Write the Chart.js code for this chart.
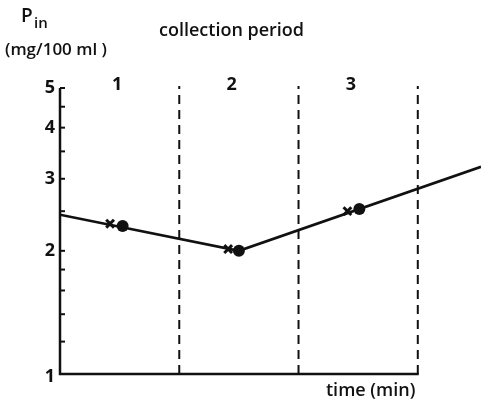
<!DOCTYPE html>
<html>
<head>
<meta charset="utf-8">
<script src="https://cdn.jsdelivr.net/npm/chart.js@4/dist/chart.umd.min.js"></script>
<style>
  html, body { margin: 0; padding: 0; background: #fff; }
  #wrap { position: relative; width: 481px; height: 403px; }
  canvas { display: block; }
</style>
</head>
<body>
<div id="wrap"><canvas id="c" width="481" height="403"></canvas></div>
<script>
// Plasma concentration (mg/100 ml) against time, in units of collection periods
const lineTime  = [0, 1.50, 3.53];
const lineConc  = [2.45, 2.00, 3.21];
const dotTime   = [0.525, 1.50, 2.51];
const dotConc   = [2.30, 2.00, 2.53];
const crossTime = [0.42, 1.41, 2.41];
const crossConc = [2.33, 2.02, 2.50];
const periodBounds = [1, 2, 3];
const periodLabels = ['1', '2', '3'];
const periodLabelPos = [0.48, 1.44, 2.44];
const yLabelTicks = [1, 2, 3, 4, 5];
const yMinorTicks = [1.2, 1.4, 1.6, 1.8, 2, 2.5, 3, 3.5, 4, 4.5, 5];

const FONT = '"Open Sans", "DejaVu Sans", sans-serif';
const INK = '#111';

const pts = (xs, ys) => xs.map((x, i) => ({ x, y: ys[i] }));

const axesPlugin = {
  id: 'plotFrame',
  beforeDatasetsDraw(chart) {
    const { ctx, scales: { x, y } } = chart;
    const x0 = x.getPixelForValue(0);
    const yBot = y.getPixelForValue(1);
    const yTop = y.getPixelForValue(5);
    ctx.save();
    ctx.strokeStyle = INK;
    ctx.lineCap = 'butt';

    // dashed period boundaries
    ctx.lineWidth = 2;
    ctx.setLineDash([9, 6]);
    periodBounds.forEach(v => {
      const px = x.getPixelForValue(v);
      ctx.beginPath();
      ctx.moveTo(px, yBot);
      ctx.lineTo(px, yTop - 2);
      ctx.stroke();
    });
    ctx.setLineDash([]);

    // y axis and bottom axis
    ctx.lineWidth = 2.5;
    ctx.beginPath();
    ctx.moveTo(x0, yTop);
    ctx.lineTo(x0, yBot);
    ctx.lineTo(x.getPixelForValue(periodBounds[periodBounds.length - 1]) + 1, yBot);
    ctx.stroke();

    // inward tick marks
    ctx.lineWidth = 2;
    yMinorTicks.forEach(v => {
      const py = y.getPixelForValue(v);
      ctx.beginPath();
      ctx.moveTo(x0, py);
      ctx.lineTo(x0 + 5, py);
      ctx.stroke();
    });

    // tick labels
    ctx.fillStyle = INK;
    ctx.font = '700 18px ' + FONT;
    ctx.textAlign = 'right';
    ctx.textBaseline = 'middle';
    yLabelTicks.forEach(v => {
      const py = y.getPixelForValue(v);
      ctx.fillText(String(v), x0 - 5, py + (v === 1 ? 3 : 0));
    });

    // period numbers
    ctx.textAlign = 'center';
    ctx.font = '700 18px ' + FONT;
    periodLabels.forEach((t, i) => {
      ctx.fillText(t, x.getPixelForValue(periodLabelPos[i]), 85);
    });

    // titles
    ctx.font = '600 18px ' + FONT;
    ctx.textAlign = 'left';
    ctx.fillText('collection period', 159, 31);
    ctx.fillText('time (min)', 326, 391);
    ctx.font = '600 17px ' + FONT;
    ctx.fillText('(mg/100 ml )', 5, 50);
    ctx.font = '600 19px ' + FONT;
    ctx.fillText('P', 21, 17);
    ctx.font = '600 15px ' + FONT;
    ctx.fillText('in', 34, 24);
    ctx.restore();
  }
};

new Chart(document.getElementById('c'), {
  type: 'scatter',
  data: {
    datasets: [
      {
        type: 'line',
        data: pts(lineTime, lineConc),
        borderColor: INK,
        borderWidth: 2.6,
        pointRadius: 0,
        tension: 0,
        fill: false
      },
      {
        data: pts(crossTime, crossConc),
        pointStyle: 'crossRot',
        pointRadius: 5.5,
        borderColor: INK,
        borderWidth: 3,
        backgroundColor: INK
      },
      {
        data: pts(dotTime, dotConc),
        pointStyle: 'circle',
        pointRadius: 6,
        borderColor: INK,
        borderWidth: 0,
        backgroundColor: INK
      }
    ]
  },
  options: {
    responsive: false,
    animation: false,
    layout: { autoPadding: false, padding: { left: 60, right: 0, top: 88, bottom: 29 } },
    plugins: { legend: { display: false }, tooltip: { enabled: false } },
    scales: {
      x: { type: 'linear', min: 0, max: 3.53, display: false },
      y: { type: 'logarithmic', min: 1, max: 5, display: false }
    }
  },
  plugins: [axesPlugin]
});
</script>
</body>
</html>
